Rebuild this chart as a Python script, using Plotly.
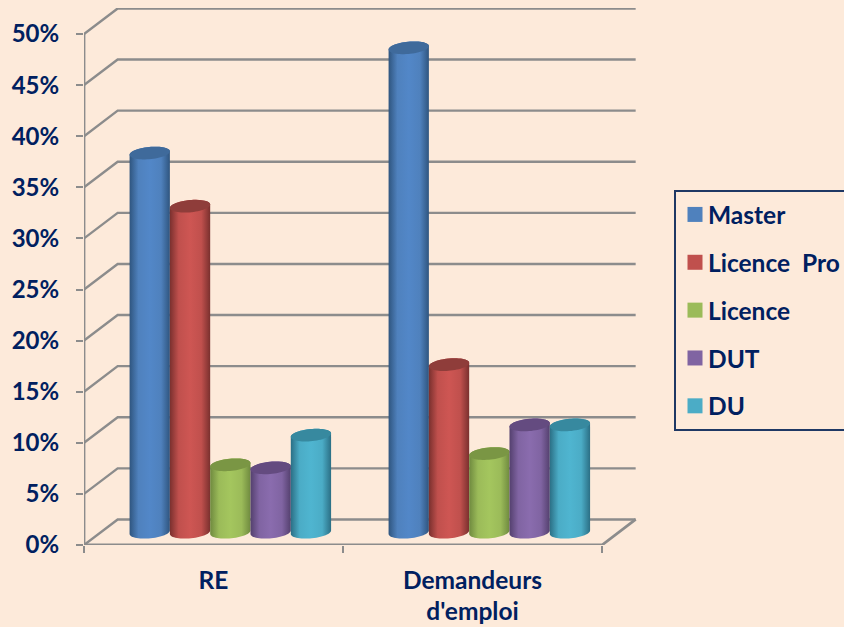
import numpy as np
import plotly.graph_objects as go

categories = ["RE", "Demandeurs<br>d'emploi"]
series_names = ["Master", "Licence  Pro", "Licence", "DUT", "DU"]
master = [37.1, 47.4]
licence_pro = [31.9, 16.4]
licence = [6.6, 7.7]
dut = [6.3, 10.5]
du = [9.5, 10.5]
series_values = [master, licence_pro, licence, dut, du]
y_ticks = [0, 5, 10, 15, 20, 25, 30, 35, 40, 45, 50]
y_labels = ["0%", "5%", "10%", "15%", "20%", "25%", "30%", "35%", "40%", "45%", "50%"]

BG = "#FDEADA"
TEXT = "#002060"
GRID = "#8C8C8C"
legend_colors = ["#4F81BD", "#C0504D", "#9BBB59", "#8064A2", "#4BACC6"]
mid_colors = ["#5287C8", "#CE5653", "#A4C65E", "#8A6CAE", "#4FB5D0"]
edge_colors = ["#2F557F", "#7A302E", "#6F8A3F", "#54406E", "#2B6F85"]
cap_colors = ["#3F6A9B", "#8F3D3A", "#7A9644", "#644B80", "#37899F"]

DX, DY = 0.13, 2.5          # depth of the floor, in axis units
BAR_W = 0.1556
CAP_B, CAP_TILT = 0.6, 0.17
FONT = "Lato, Carlito, Calibri, sans-serif"

fig = go.Figure()

# walls and floor
for v in y_ticks:
    fig.add_trace(go.Scatter(x=[0, DX, 2 + DX], y=[v, v + DY, v + DY], mode="lines",
                             line=dict(color=GRID, width=2.4), showlegend=False,
                             hoverinfo="skip", cliponaxis=False))
fig.add_trace(go.Scatter(x=[0, 0, None, 0, 2, 2 + DX], y=[0, 50, None, 0, 0, DY], mode="lines",
                         line=dict(color=GRID, width=2.8), showlegend=False,
                         hoverinfo="skip", cliponaxis=False))

# cylinders
def ellipse(cx, cy, t):
    a = BAR_W / 2
    return cx + a * np.cos(t), cy + CAP_B * np.sin(t) + CAP_TILT * np.cos(t)

low = np.linspace(np.pi, 2 * np.pi, 30)
up = np.linspace(0, np.pi, 30)
full = np.linspace(0, 2 * np.pi, 60)

for g in range(len(categories)):
    for i, vals in enumerate(series_values):
        cx = g + 0.5 + (i - 2) * BAR_W + DX / 2
        base = DY / 2
        top = vals[g] + base
        bx, by = ellipse(cx, base, low)
        tx, ty = ellipse(cx, top, up)
        fig.add_trace(go.Scatter(
            x=np.concatenate([bx, tx]), y=np.concatenate([by, ty]),
            fill="toself", mode="none", showlegend=False, hoverinfo="skip",
            fillgradient=dict(type="horizontal",
                              colorscale=[[0, edge_colors[i]], [0.22, legend_colors[i]],
                                          [0.5, mid_colors[i]], [0.78, legend_colors[i]],
                                          [1, edge_colors[i]]])))
        cx_, cy_ = ellipse(cx, top, full)
        fig.add_trace(go.Scatter(x=cx_, y=cy_, fill="toself", mode="none",
                                 fillcolor=cap_colors[i], showlegend=False, hoverinfo="skip"))

# legend entries
for i, name in enumerate(series_names):
    fig.add_trace(go.Scatter(x=[None], y=[None], mode="markers", name=name, legendgroup=name,
                             marker=dict(symbol="square", size=15, color=legend_colors[i])))

fig.update_layout(
    width=844, height=627, autosize=False,
    paper_bgcolor=BG, plot_bgcolor=BG,
    margin=dict(l=84, r=206, t=8, b=82, autoexpand=False),
    font=dict(family=FONT, color=TEXT),
    xaxis=dict(range=[0, 554 / 259], tickmode="array", tickvals=[0.5, 1.5], ticktext=categories,
               showgrid=False, zeroline=False, showline=False, ticks="",
               tickfont=dict(size=24.5, color=TEXT, family=FONT, weight=700),
               ticklabelstandoff=18,
               minor=dict(tickmode="array", tickvals=[0, 1, 2], ticks="outside", ticklen=7,
                          tickwidth=2, tickcolor=GRID, showgrid=False)),
    yaxis=dict(range=[0, 537 / 10.22], tickmode="array", tickvals=y_ticks, ticktext=y_labels,
               showgrid=False, zeroline=False, showline=False, ticks="outside", ticklen=7,
               tickwidth=2, tickcolor=GRID,
               tickfont=dict(size=24, color=TEXT, family=FONT, weight=700),
               ticklabelstandoff=12),
    legend=dict(xref="container", yref="container", x=674 / 844, xanchor="left",
                y=1 - 190 / 627, yanchor="top",
                font=dict(size=24.5, color=TEXT, family=FONT, weight=700),
                entrywidth=180, entrywidthmode="pixels", indentation=-8,
                bgcolor=BG, bordercolor="#1F3864", borderwidth=2,
                traceorder="grouped", tracegroupgap=13, itemclick=False),
)

post = """
document.body.style.margin='0';
document.body.style.background='#FDEADA';
var s=document.createElement('style');
s.textContent='.legendsymbols{translate:7px 0;}';
document.head.appendChild(s);
"""
fig.write_html("out.html", config={"displayModeBar": False}, post_script=post)
